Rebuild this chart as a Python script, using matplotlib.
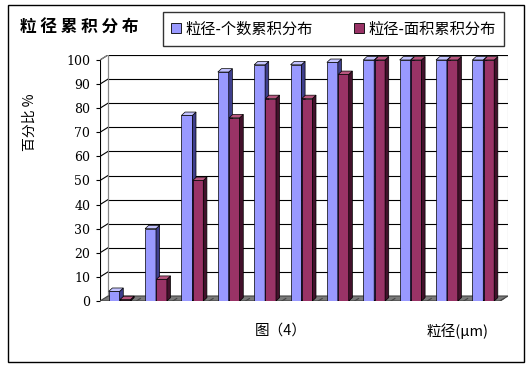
import matplotlib
matplotlib.use('Agg')
import matplotlib.pyplot as plt
from matplotlib.patches import Polygon, Rectangle, Patch

plt.rcParams['font.family'] = ['Noto Sans CJK SC', 'DejaVu Sans']
plt.rcParams['axes.unicode_minus'] = False

# ── 数据 ────────────────────────────────────────────
n_cat = 11
count_cum = [4, 30, 77, 95, 98, 98, 99, 100, 100, 100, 100]   # 粒径-个数累积分布
area_cum = [0.6, 9, 50, 76, 84, 84, 94, 100, 100, 100, 100]   # 粒径-面积累积分布
yticks = [0, 10, 20, 30, 40, 50, 60, 70, 80, 90, 100]

title = '粒 径 累 积 分 布'
legend_labels = ['粒径-个数累积分布', '粒径-面积累积分布']
ylabel = '百分比 %'
caption = '图（4）'
xlabel = '粒径(μm)'

# ── 样式 ────────────────────────────────────────────
W, H = 531, 370
DX, DY = 0.22, 2.07          # 背景墙深度偏移（数据单位）
BDX, BDY = 0.10, 1.4         # 柱子的厚度
blue = ('#9999FF', '#3E3E8C', '#C4C4FF')
red = ('#993366', '#42112B', '#B8567F')

fig = plt.figure(figsize=(W / 100, H / 100), dpi=100)
fig.patch.set_facecolor('white')

# 外框
fig.patches.append(Rectangle((8 / W, 1 - 362 / H), 516 / W, 357 / H,
                             transform=fig.transFigure, fill=False,
                             edgecolor='black', linewidth=1.0))

ax = fig.add_axes([100 / W, 1 - 301 / H, 408 / W, 246 / H])
ax.set_xlim(0, n_cat + DX)
ax.set_ylim(0, 100 + DY)
for s in ax.spines.values():
    s.set_visible(False)
ax.set_xticks([])
ax.set_yticks(yticks)
ax.set_yticklabels([str(v) for v in yticks], family='DejaVu Serif', fontsize=9)
ax.tick_params(axis='y', length=3, width=0.8, pad=4)

xr = n_cat + DX
# 背景墙
ax.add_patch(Polygon([(DX, DY), (xr, DY), (xr, 100 + DY), (DX, 100 + DY)],
                     closed=True, facecolor='white', edgecolor='#888888',
                     linewidth=0.8, zorder=0))
# 网格线
for v in yticks[1:]:
    ax.plot([DX, xr], [v + DY, v + DY], color='black', lw=0.8, zorder=1)
    ax.plot([0, DX], [v, v + DY], color='black', lw=0.8, zorder=1)
ax.plot([0, 0], [0, 100], color='black', lw=0.8, zorder=1)
ax.plot([DX, DX], [DY, 100 + DY], color='#888888', lw=0.8, zorder=1)
ax.plot([0, DX], [100, 100 + DY], color='#888888', lw=0.8, zorder=1)
# 底面
ax.add_patch(Polygon([(0, 0), (n_cat, 0), (xr, DY), (DX, DY)], closed=True,
                     facecolor='#7A7A7A', edgecolor='#444444', linewidth=0.8,
                     zorder=2))
for i in range(1, n_cat + 1):
    ax.plot([i, i + DX * 0.5], [0, DY * 0.5], color='#444444', lw=0.8, zorder=2)


def bar3d(x0, w, h, cols, z):
    ax.bar(x0, h, width=w, align='edge', color=cols[0], edgecolor='black',
           linewidth=0.5, zorder=z)
    ax.add_patch(Polygon([(x0 + w, 0), (x0 + w + BDX, BDY),
                          (x0 + w + BDX, h + BDY), (x0 + w, h)], closed=True,
                         facecolor=cols[1], edgecolor='black', linewidth=0.5,
                         zorder=z))
    ax.add_patch(Polygon([(x0, h), (x0 + BDX, h + BDY),
                          (x0 + w + BDX, h + BDY), (x0 + w, h)], closed=True,
                         facecolor=cols[2], edgecolor='black', linewidth=0.5,
                         zorder=z))


for i in range(n_cat):
    bar3d(i + 0.24, 0.30, count_cum[i], blue, 3 + 2 * i)
    bar3d(i + 0.55, 0.29, area_cum[i], red, 4 + 2 * i)

# 文本
fig.text(20 / W, 1 - 28 / H, title, fontsize=12, fontweight='bold',
         va='center', ha='left')
fig.text(30 / W, 1 - 122 / H, ylabel, fontsize=10, rotation=90,
         va='center', ha='center')
fig.text(281 / W, 1 - 331 / H, caption, fontsize=10.5, va='center', ha='center')
fig.text(458 / W, 1 - 331 / H, xlabel, fontsize=10.5, va='center', ha='center')

# 图例
handles = [Patch(facecolor=blue[0], edgecolor='black', linewidth=0.6),
           Patch(facecolor=red[0], edgecolor='black', linewidth=0.6)]
leg = fig.legend(handles, legend_labels, ncol=2, mode='expand', loc='center',
                 bbox_to_anchor=(163 / W, 1 - 45 / H, 341 / W, 32 / H),
                 fontsize=11, frameon=True, fancybox=False, edgecolor='black',
                 handlelength=0.6, handleheight=0.6, handletextpad=0.3,
                 borderaxespad=0, borderpad=0.55, columnspacing=2.0)
leg.get_frame().set_linewidth(1.0)

fig.savefig('out.png', dpi=100)
